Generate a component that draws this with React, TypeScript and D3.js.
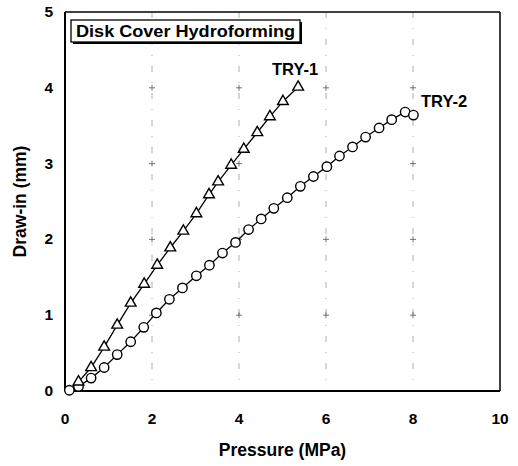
import React from "react";
import * as d3 from "d3";

// TRY-1 (triangles)
const try1X = [0.31, 0.6, 0.9, 1.2, 1.51, 1.82, 2.12, 2.42, 2.72, 3.02, 3.31, 3.52, 3.82, 4.11, 4.42, 4.71, 5.01, 5.36];
const try1Y = [0.12, 0.31, 0.58, 0.87, 1.16, 1.41, 1.66, 1.89, 2.11, 2.34, 2.59, 2.76, 2.98, 3.19, 3.41, 3.62, 3.82, 4.01];

// TRY-2 (circles)
const try2X = [0.1, 0.31, 0.6, 0.9, 1.2, 1.51, 1.81, 2.1, 2.4, 2.7, 3.02, 3.32, 3.62, 3.92, 4.22, 4.51, 4.8, 5.11, 5.41, 5.71, 6.02, 6.31, 6.61, 6.91, 7.22, 7.51, 7.82, 8.01];
const try2Y = [0.01, 0.06, 0.17, 0.31, 0.48, 0.65, 0.84, 1.03, 1.21, 1.36, 1.52, 1.66, 1.82, 1.96, 2.13, 2.27, 2.41, 2.55, 2.7, 2.83, 2.96, 3.1, 3.22, 3.35, 3.47, 3.58, 3.68, 3.64];

const xTicks = [0, 2, 4, 6, 8, 10];
const yTicks = [0, 1, 2, 3, 4, 5];
const gridX = [2, 4, 6, 8];
const gridY = [1, 2, 3, 4];

const left = 65;
const right = 500;
const top = 12;
const bottom = 391;
const font = "'Liberation Sans', Arial, sans-serif";

export default function App() {
  const x = d3.scaleLinear().domain([0, 10]).range([left, right]);
  const y = d3.scaleLinear().domain([0, 5]).range([bottom, top]);

  const lineGen = d3.line<[number, number]>().x((d) => x(d[0])).y((d) => y(d[1]));
  const path1 = lineGen(try1X.map((v, i) => [v, try1Y[i]]));
  const path2 = lineGen(try2X.map((v, i) => [v, try2Y[i]]));

  const tri = d3.symbol().type(d3.symbolTriangle).size(50)();

  return (
    <svg width={518} height={466} style={{ position: "absolute", left: 0, top: 0 }}>
      <rect width={518} height={466} fill="white" />
      {/* grid: faint dash-dot verticals and plus marks */}
      {gridX.map((g) => (
        <line key={"gx" + g} x1={x(g)} x2={x(g)} y1={top} y2={bottom} stroke="#999" strokeWidth={0.8} strokeDasharray="6 10 1 10" />
      ))}
      {gridX.map((g) =>
        gridY.map((h) => (
          <g key={"p" + g + "-" + h} stroke="#555" strokeWidth={0.8}>
            <line x1={x(g) - 3} x2={x(g) + 3} y1={y(h)} y2={y(h)} />
            <line x1={x(g)} x2={x(g)} y1={y(h) - 3} y2={y(h) + 3} />
          </g>
        ))
      )}
      {/* frame */}
      <line x1={left} x2={right} y1={top} y2={top} stroke="#000" strokeWidth={1.3} />
      <line x1={right} x2={right} y1={top} y2={bottom} stroke="#000" strokeWidth={1.5} />
      <line x1={left} x2={left} y1={top} y2={bottom} stroke="#000" strokeWidth={2} />
      <line x1={left} x2={right} y1={bottom} y2={bottom} stroke="#000" strokeWidth={2} />

      {/* series */}
      <path d={path1 || ""} fill="none" stroke="#000" strokeWidth={1.3} />
      <path d={path2 || ""} fill="none" stroke="#000" strokeWidth={1.3} />
      {try2X.map((v, i) => (
        <circle key={"c" + i} cx={x(v)} cy={y(try2Y[i])} r={4.7} fill="white" stroke="#000" strokeWidth={1.4} />
      ))}
      {try1X.map((v, i) => (
        <path key={"t" + i} d={tri || ""} transform={`translate(${x(v)},${y(try1Y[i])})`} fill="white" stroke="#000" strokeWidth={1.4} />
      ))}

      {/* labels */}
      <text x={272} y={75} fontFamily={font} fontWeight="bold" fontSize={16.5}>TRY-1</text>
      <text x={421} y={107} fontFamily={font} fontWeight="bold" fontSize={16.5}>TRY-2</text>

      {/* title box */}
      <rect x={73} y={22} width={229} height={22} fill="#000" />
      <rect x={71} y={20} width={229} height={22} fill="white" stroke="#000" strokeWidth={1.3} />
      <text x={76} y={37} fontFamily={font} fontWeight="bold" fontSize={16} textLength={219} lengthAdjust="spacingAndGlyphs">Disk Cover Hydroforming</text>

      {/* ticks */}
      {xTicks.map((t) => (
        <text key={"xt" + t} x={x(t)} y={424} textAnchor="middle" fontFamily={font} fontWeight="bold" fontSize={15.5}>{t}</text>
      ))}
      {yTicks.map((t) => (
        <text key={"yt" + t} x={53} y={y(t) + 5} textAnchor="end" fontFamily={font} fontWeight="bold" fontSize={15.5}>{t}</text>
      ))}
      <text x={(left + right) / 2} y={456} textAnchor="middle" fontFamily={font} fontWeight="bold" fontSize={17.5}>Pressure (MPa)</text>
      <text transform={`translate(26,${(top + bottom) / 2}) rotate(-90)`} textAnchor="middle" fontFamily={font} fontWeight="bold" fontSize={17.5}>Draw-in (mm)</text>
    </svg>
  );
}
